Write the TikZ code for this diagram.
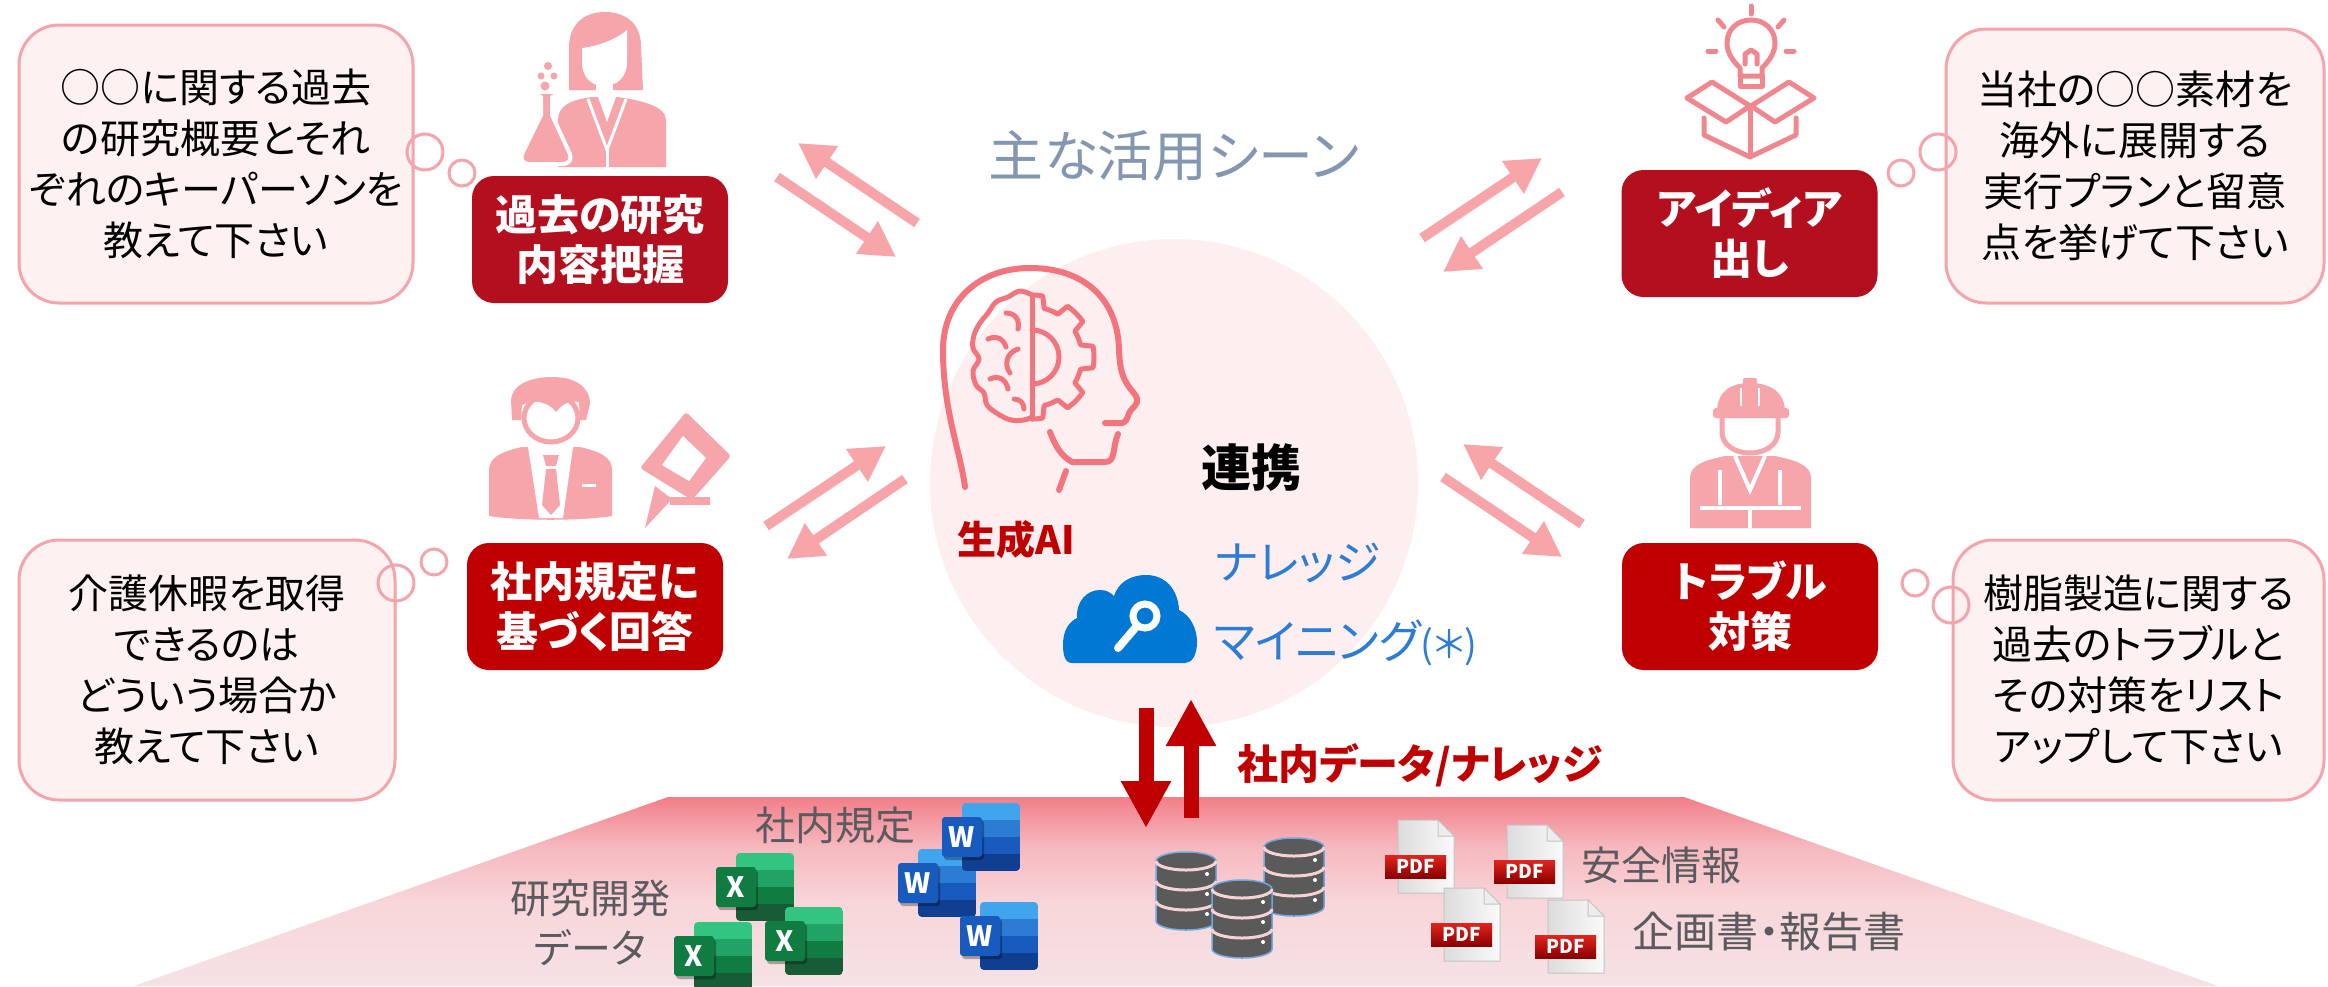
\documentclass[tikz,border=0pt]{standalone}
\usepackage{fontspec}
\setmainfont{Noto Sans CJK JP}[RawFeature=+palt]
\usetikzlibrary{arrows.meta}

% palette
\definecolor{bubFill}{HTML}{FDF1F2}
\definecolor{bubLine}{HTML}{F4A4AA}
\definecolor{boxRedA}{HTML}{B30F1E}
\definecolor{boxRedB}{HTML}{C00000}
\definecolor{iconPink}{HTML}{F6A5AA}
\definecolor{arrowPink}{HTML}{F8A5AA}
\definecolor{lineSalmon}{HTML}{F1878E}
\definecolor{headLine}{HTML}{F2757D}
\definecolor{circFill}{HTML}{FDEFF0}
\definecolor{titleGray}{HTML}{8497B0}
\definecolor{mineBlue}{HTML}{2E7DD4}
\definecolor{cloudBlue}{HTML}{0078D4}
\definecolor{labelGray}{HTML}{5A5A5F}
\definecolor{dbGray}{HTML}{5A5A5A}
\definecolor{dbEdge}{HTML}{6FA8E0}
\definecolor{dbSep}{HTML}{F6D2D6}
\definecolor{pfTop}{HTML}{F27E88}
\definecolor{pfUp}{HTML}{F6B8BE}
\definecolor{pfMid}{HTML}{F8D6DA}
\definecolor{pfBot}{HTML}{F5E2E5}
\definecolor{xlA}{HTML}{33C481}
\definecolor{xlB}{HTML}{21A366}
\definecolor{xlC}{HTML}{107C41}
\definecolor{xlD}{HTML}{185C37}
\definecolor{xlT}{HTML}{107C41}
\definecolor{wdA}{HTML}{41A5EE}
\definecolor{wdB}{HTML}{2B7CD3}
\definecolor{wdC}{HTML}{185ABD}
\definecolor{wdD}{HTML}{103F91}
\definecolor{wdT}{HTML}{185ABD}
\definecolor{pdfPageA}{HTML}{DCDCDC}
\definecolor{pdfPageB}{HTML}{FAFAFA}
\definecolor{pdfEdge}{HTML}{C4C4C4}
\definecolor{pdfFold}{HTML}{EDEDED}
\definecolor{pdfRedA}{HTML}{E3241E}
\definecolor{pdfRedB}{HTML}{8A0000}

% floor gradient, top strong pink fading downwards
\pgfdeclareverticalshading{platform}{100bp}{color(0bp)=(pfBot); color(25bp)=(pfBot); color(47bp)=(pfMid); color(62bp)=(pfUp); color(75bp)=(pfTop); color(100bp)=(pfTop)}

\tikzset{
  bubble/.style={draw=bubLine, fill=bubFill, line width=3pt, rounded corners=40pt,
    text=black, align=center, font=\fontsize{40}{51}\selectfont, inner sep=0pt},
  thought/.style={circle, draw=bubLine, line width=3pt, inner sep=0pt},
  scene/.style={rounded corners=22pt, text=white, align=center,
    font=\bfseries\fontsize{42}{50}\selectfont, minimum width=256pt,
    minimum height=127pt, inner sep=0pt},
  flowarrow/.style={draw=arrowPink, line width=10pt,
    -{Triangle[length=35pt,width=37pt]}},
  dataarrow/.style={draw=boxRedB, line width=15pt,
    -{Triangle[length=47pt,width=47pt]}},
  floorlabel/.style={text=labelGray, font=\fontsize{40}{50}\selectfont, align=center},
  tileletter/.style={text=white, font=\bfseries\fontsize{28}{28}\selectfont, inner sep=0pt},
  pdftext/.style={text=white, font=\bfseries\fontsize{19}{19}\selectfont, inner sep=0pt},
  outline/.style={line width=6pt, line cap=round, line join=round}
}

% Office style document tile: #1,#2 top-left, #3 palette, #4 letter, #5 name
\newcommand{\officeicon}[5]{%
  \begin{scope}[shift={(#1,#2)}]
    \begin{scope}
      \clip[rounded corners=4pt] (20,0) rectangle (78,68);
      \fill[#3A] (20,0) rectangle (78,17);
      \fill[#3B] (20,17) rectangle (78,34);
      \fill[#3C] (20,34) rectangle (78,51);
      \fill[#3D] (20,51) rectangle (78,68);
    \end{scope}
    \fill[black, opacity=0.3, rounded corners=3pt] (2,17) rectangle (42,57);
    \fill[#3T, rounded corners=3pt] (0,14) rectangle (40,54);
    \node[tileletter] (#5) at (20,34) {#4};
  \end{scope}}

% PDF page: #1,#2 top-left, #3 name
\newcommand{\pdfdoc}[3]{%
  \begin{scope}[shift={(#1,#2)}]
    \shade[left color=pdfPageA, right color=pdfPageB] (0,0) -- (40,0) -- (56,16) -- (56,73) -- (0,73) -- cycle;
    \draw[pdfEdge, line width=1pt] (0,0) -- (40,0) -- (56,16) -- (56,73) -- (0,73) -- cycle;
    \filldraw[fill=pdfFold, draw=pdfEdge, line width=1pt] (40,0) -- (40,16) -- (56,16) -- cycle;
    \shade[top color=pdfRedA, bottom color=pdfRedB] (-13,35) rectangle (48,58);
    \node[pdftext] (#3) at (17.5,46.5) {PDF};
  \end{scope}}

% database cylinder stack: #1,#2 top-left, #3 name
\newcommand{\dbstack}[3]{%
  \begin{scope}[shift={(#1,#2)}]
    \filldraw[fill=dbGray, draw=dbEdge, line width=1.5pt] (0,9) -- (0,69)
      arc[start angle=180, end angle=0, x radius=30, y radius=9] -- (60,9)
      arc[start angle=0, end angle=-180, x radius=30, y radius=9] -- cycle;
    \foreach \yy in {9,29,49}
      \draw[dbSep, line width=3pt] (0,\yy) arc[start angle=180, end angle=0, x radius=30, y radius=9];
    \fill[white] (51,22) circle (2) (51,42) circle (2) (51,62) circle (2);
    \coordinate (#3) at (30,40);
  \end{scope}}

\begin{document}
\begin{tikzpicture}[x=1pt,y=-1pt]
\useasboundingbox (0,0) rectangle (2328,986);
\fill[white] (0,0) rectangle (2328,986);

% ---------- floor with data sources ----------
\shade[shading=platform] (668,797) -- (1684,797) -- (2218,986) -- (134,986) -- cycle;

% ---------- central hub ----------
\node[circle, fill=circFill, minimum size=488pt, inner sep=0pt] (hub) at (1174,483) {};

% ---------- question bubbles ----------
\node[bubble, minimum width=394pt, minimum height=278pt] (q1) at (216,164)
  {○○に関する過去\\の研究概要とそれ\\ぞれのキーパーソンを\\教えて下さい};
\node[bubble, minimum width=376pt, minimum height=260pt] (q2) at (207,670)
  {介護休暇を取得\\できるのは\\どういう場合か\\教えて下さい};
\node[bubble, minimum width=378pt, minimum height=274pt] (q3) at (2135,166)
  {当社の○○素材を\\海外に展開する\\実行プランと留意\\点を挙げて下さい};
\node[bubble, minimum width=371pt, minimum height=260pt] (q4) at (2138.5,670)
  {樹脂製造に関する\\過去のトラブルと\\その対策をリスト\\アップして下さい};

\node[thought, minimum size=36pt] (t1a) at (425,152) {};
\node[thought, minimum size=26pt] (t1b) at (462,173) {};
\node[thought, minimum size=36pt] (t2a) at (396,583) {};
\node[thought, minimum size=26pt] (t2b) at (434,562) {};
\node[thought, minimum size=26pt] (t3a) at (1901,173) {};
\node[thought, minimum size=36pt] (t3b) at (1938,152) {};
\node[thought, minimum size=26pt] (t4a) at (1915,583) {};
\node[thought, minimum size=36pt] (t4b) at (1951,605) {};

% ---------- scene boxes ----------
\node[scene, fill=boxRedA] (s1) at (600,239.5) {過去の研究\\内容把握};
\node[scene, fill=boxRedB] (s2) at (595,606.5) {社内規定に\\基づく回答};
\node[scene, fill=boxRedA] (s3) at (1749.5,233.5) {アイディア\\出し};
\node[scene, fill=boxRedB] (s4) at (1750,606.5) {トラブル\\対策};

% ---------- researcher with flask ----------
\fill[iconPink] (569,90) -- (569,48) .. controls (569,24) and (584,12) .. (605,12)
  .. controls (626,12) and (641,24) .. (641,46) -- (643,90) -- cycle;
\fill[white] (582,48) .. controls (598,46) and (615,40) .. (627,30) -- (627,62)
  .. controls (627,78) and (616,86) .. (604,86) .. controls (592,86) and (582,78) .. (582,62) -- cycle;
\fill[white] (596,80) rectangle (613,97);
\fill[iconPink] (558,167) -- (558,120) .. controls (558,106) and (570,100) .. (592,97)
  -- (617,97) .. controls (640,100) and (666,106) .. (666,120) -- (666,167) -- cycle;
\fill[white] (598,97) -- (607,122) -- (616,97) -- cycle;
\draw[white, line width=3pt] (588,99) -- (607,150) -- (626,99);
\draw[white, line width=3pt] (607,150) -- (607,167);
\filldraw[fill=iconPink, draw=white, line width=4pt, line join=round]
  (538,92) -- (555,92) -- (555,97) -- (552,97) -- (552,115) -- (569,152)
  .. controls (573,160) and (569,164) .. (562,164) -- (530,164)
  .. controls (523,164) and (519,160) .. (523,152) -- (541,115) -- (541,97) -- (538,97) -- cycle;
\fill[iconPink] (548,66) circle (4) (541,76) circle (3.5) (554,76) circle (3.5) (545,86) circle (4.5);

% ---------- office worker with pen ----------
\fill[iconPink] (489,516) -- (489,470) .. controls (489,458) and (500,452) .. (522,447)
  -- (580,447) .. controls (602,452) and (612,458) .. (612,470) -- (612,516)
  .. controls (580,521) and (521,521) .. (489,516) -- cycle;
\fill[white] (528,447) -- (573,447) -- (563,518) -- (539,518) -- cycle;
\fill[iconPink] (543,455) -- (559,455) -- (556,466) -- (546,466) -- cycle;
\fill[iconPink] (546,469) -- (556,469) -- (560,505) -- (551,515) -- (542,505) -- cycle;
\draw[white, line width=3pt] (582,485) -- (596,485);
\fill[white] (540,436) rectangle (562,449);
\filldraw[fill=white, draw=iconPink, line width=5pt] (551,418) ellipse [x radius=27, y radius=24];
\fill[iconPink] (512,420) -- (511,400) .. controls (512,385) and (530,377) .. (552,377)
  .. controls (574,377) and (590,386) .. (590,404) -- (586,420) -- (580,420) -- (579,402)
  .. controls (570,400) and (562,404) .. (556,412) .. controls (550,403) and (535,398) .. (522,405)
  -- (521,420) -- cycle;
\fill[iconPink, rounded corners=3pt] (686,412) -- (731,456) -- (692,500) -- (640,468) -- cycle;
\fill[white] (683,436) -- (706,458) -- (689,481) -- (662,465) -- cycle;
\fill[iconPink] (655,486) -- (672,499) -- (645,528) -- cycle;
\fill[iconPink] (670,497) rectangle (710,505);

% ---------- idea: bulb over open box ----------
\begin{scope}[draw=lineSalmon, line width=5pt, line cap=round, line join=round]
  \draw (1751,6) -- (1751,14);
  \draw (1718,20) -- (1724,27);
  \draw (1784,20) -- (1778,27);
  \draw (1708,51) -- (1716,51);
  \draw (1786,51) -- (1794,51);
  \draw (1740,76) -- (1740,68) .. controls (1732,60) and (1727,52) .. (1727,43)
    .. controls (1727,29) and (1738,20) .. (1751,20) .. controls (1764,20) and (1775,29) .. (1775,43)
    .. controls (1775,52) and (1770,60) .. (1762,68) -- (1762,76) -- cycle;
  \draw (1740,76) -- (1740,86) -- (1762,86) -- (1762,76);
  \draw (1745,64) -- (1745,54) -- (1751,50) -- (1757,54) -- (1757,64);
  \draw (1750,106) -- (1712,82) -- (1687,98) -- (1726,122) -- cycle;
  \draw (1751,106) -- (1789,82) -- (1814,98) -- (1775,122) -- cycle;
  \draw (1704,118) -- (1704,135) -- (1750,157) -- (1796,135) -- (1796,118);
  \draw (1750,110) -- (1750,155);
\end{scope}

% ---------- engineer with helmet ----------
\fill[iconPink] (1690,528) -- (1690,478) .. controls (1690,465) and (1705,460) .. (1725,456)
  -- (1775,456) .. controls (1795,460) and (1811,465) .. (1811,478) -- (1811,528) -- cycle;
\draw[white, line width=4pt] (1735,456) -- (1750,490) -- (1765,456);
\draw[white, line width=4pt] (1720,470) -- (1720,505) (1780,470) -- (1780,505);
\draw[white, line width=4pt] (1700,508) -- (1801,508);
\draw[white, line width=4pt] (1750,510) -- (1750,528);
\filldraw[fill=white, draw=iconPink, line width=5pt] (1722,416) -- (1722,432)
  .. controls (1722,445) and (1735,453) .. (1750,453) .. controls (1765,453) and (1778,445) .. (1778,432)
  -- (1778,416);
\fill[iconPink] (1717,412) .. controls (1717,392) and (1730,383) .. (1750,383)
  .. controls (1770,383) and (1785,392) .. (1785,412) -- cycle;
\fill[iconPink, rounded corners=3pt] (1713,408) rectangle (1789,418);
\fill[iconPink, rounded corners=2pt] (1743,378) rectangle (1757,392);
\draw[white, line width=2pt] (1741,388) -- (1741,406) (1759,388) -- (1759,406);

% ---------- AI head with brain and gear ----------
\begin{scope}[draw=headLine, outline]
  \draw (965,487) .. controls (960,450) and (943,410) .. (943,350)
    .. controls (943,300) and (980,268) .. (1030,268) .. controls (1085,268) and (1118,300) .. (1119,350)
    .. controls (1120,372) and (1123,380) .. (1133,392) .. controls (1141,401) and (1136,405) .. (1131,410)
    .. controls (1127,414) and (1129,421) .. (1122,423) -- (1105,423);
  \draw (1118,434) .. controls (1112,448) and (1116,462) .. (1105,462) -- (1072,462)
    .. controls (1060,455) and (1055,445) .. (1050,432);
  \draw (1066,471) -- (1059,490);
\end{scope}
\begin{scope}[shift={(1032,357)}, draw=headLine, line width=5pt, line cap=round, line join=round]
  \draw (-90:62) arc[start angle=-90, end angle=-80, radius=62] -- (-76:50)
    arc[start angle=-76, end angle=-59, radius=50] -- (-55:62)
    arc[start angle=-55, end angle=-35, radius=62] -- (-31:50)
    arc[start angle=-31, end angle=-14, radius=50] -- (-10:62)
    arc[start angle=-10, end angle=10, radius=62] -- (14:50)
    arc[start angle=14, end angle=31, radius=50] -- (35:62)
    arc[start angle=35, end angle=55, radius=62] -- (59:50)
    arc[start angle=59, end angle=76, radius=50] -- (80:62)
    arc[start angle=80, end angle=90, radius=62];
  \draw (-90:27) arc[start angle=-90, end angle=90, radius=27];
  \draw (0,-62) -- (0,62);
  \draw plot[smooth, tension=0.6] coordinates {(0,-62) (-12,-66) (-24,-60) (-36,-55)
    (-44,-44) (-52,-34) (-58,-22) (-59,-9) (-53,2) (-59,14) (-56,28) (-48,36)
    (-45,48) (-34,57) (-21,63) (-8,63) (0,60)};
  \draw (-26,-44) .. controls (-16,-44) and (-12,-36) .. (-14,-28);
  \draw (-44,-18) .. controls (-36,-22) and (-28,-18) .. (-26,-10);
  \draw (-14,-8) .. controls (-26,-4) and (-28,8) .. (-22,16);
  \draw (-42,22) .. controls (-34,18) and (-26,22) .. (-24,32);
  \draw (-18,42) .. controls (-12,42) and (-8,46) .. (-8,52);
\end{scope}

% ---------- knowledge mining cloud ----------
\fill[cloudBlue] (1072,663) .. controls (1065,663) and (1063,655) .. (1063,645)
  .. controls (1063,630) and (1069,622) .. (1077,618) .. controls (1076,601) and (1087,590) .. (1100,590)
  .. controls (1106,590) and (1110,592) .. (1114,596) .. controls (1118,583) and (1130,575) .. (1146,575)
  .. controls (1166,575) and (1178,590) .. (1179,610) .. controls (1190,615) and (1197,628) .. (1197,642)
  .. controls (1197,655) and (1192,663) .. (1185,663) -- cycle;
\draw[white, line width=7pt] (1145,616) circle (12);
\draw[white, line width=8pt, line cap=round] (1136,627) -- (1118,648);

% ---------- labels in the hub ----------
\node[font=\fontsize{55}{60}\selectfont, text=titleGray] (title) at (1174,156) {主な活用シーン};
\node[font=\bfseries\fontsize{50}{55}\selectfont, text=black] (link) at (1251,468) {連携};
\node[font=\bfseries\fontsize{39}{44}\selectfont, text=boxRedB] (genai) at (1016,540) {生成AI};
\node[font=\fontsize{46}{50}\selectfont, text=mineBlue, anchor=west, inner sep=0pt] (km1) at (1214,563) {ナレッジ};
\node[font=\fontsize{46}{50}\selectfont, text=mineBlue, anchor=west, inner sep=0pt] (km2) at (1214,643)
  {マイニング{\fontsize{38}{38}\selectfont(＊)}};

% ---------- scene arrows ----------
\coordinate (a1s) at (917,223);  \coordinate (a1e) at (798,143);
\coordinate (a2s) at (777,177);  \coordinate (a2e) at (896,257);
\coordinate (a3s) at (1422,238); \coordinate (a3e) at (1542,158);
\coordinate (a4s) at (1562,192); \coordinate (a4e) at (1443,272);
\coordinate (a5s) at (766,526);  \coordinate (a5e) at (886,446);
\coordinate (a6s) at (905,479);  \coordinate (a6e) at (787,559);
\coordinate (a7s) at (1582,524); \coordinate (a7e) at (1463,444);
\coordinate (a8s) at (1443,477); \coordinate (a8e) at (1562,557);
\draw[flowarrow] (a1s) -- (a1e);
\draw[flowarrow] (a2s) -- (a2e);
\draw[flowarrow] (a3s) -- (a3e);
\draw[flowarrow] (a4s) -- (a4e);
\draw[flowarrow] (a5s) -- (a5e);
\draw[flowarrow] (a6s) -- (a6e);
\draw[flowarrow] (a7s) -- (a7e);
\draw[flowarrow] (a8s) -- (a8e);

% ---------- data exchange arrows ----------
\coordinate (dnA) at (1146,708); \coordinate (dnB) at (1146,828);
\coordinate (upA) at (1191,818); \coordinate (upB) at (1191,699);
\draw[dataarrow] (dnA) -- (dnB);
\draw[dataarrow] (upA) -- (upB);
\node[font=\bfseries\fontsize{41}{46}\selectfont, text=boxRedB] (flow) at (1420,765) {社内データ/ナレッジ};

% ---------- data sources ----------
\node[floorlabel] (rules) at (835,825) {社内規定};
\node[floorlabel] (rnd) at (590,923) {研究開発\\データ};
\node[floorlabel] (safety) at (1661,865) {安全情報};
\node[floorlabel, font=\fontsize{42}{46}\selectfont] (reports) at (1769,932) {企画書・報告書};

\officeicon{716}{853}{xl}{X}{xl1}
\officeicon{765}{907}{xl}{X}{xl3}
\officeicon{674}{922}{xl}{X}{xl2}
\officeicon{898}{849}{wd}{W}{wd2}
\officeicon{942}{803}{wd}{W}{wd1}
\officeicon{960}{902}{wd}{W}{wd3}

\dbstack{1156}{852}{db1}
\dbstack{1264}{838}{db3}
\dbstack{1212}{880}{db2}

\pdfdoc{1398}{820}{pdf1}
\pdfdoc{1507}{825}{pdf2}
\pdfdoc{1444}{888}{pdf3}
\pdfdoc{1548}{900}{pdf4}

\end{tikzpicture}
\end{document}
